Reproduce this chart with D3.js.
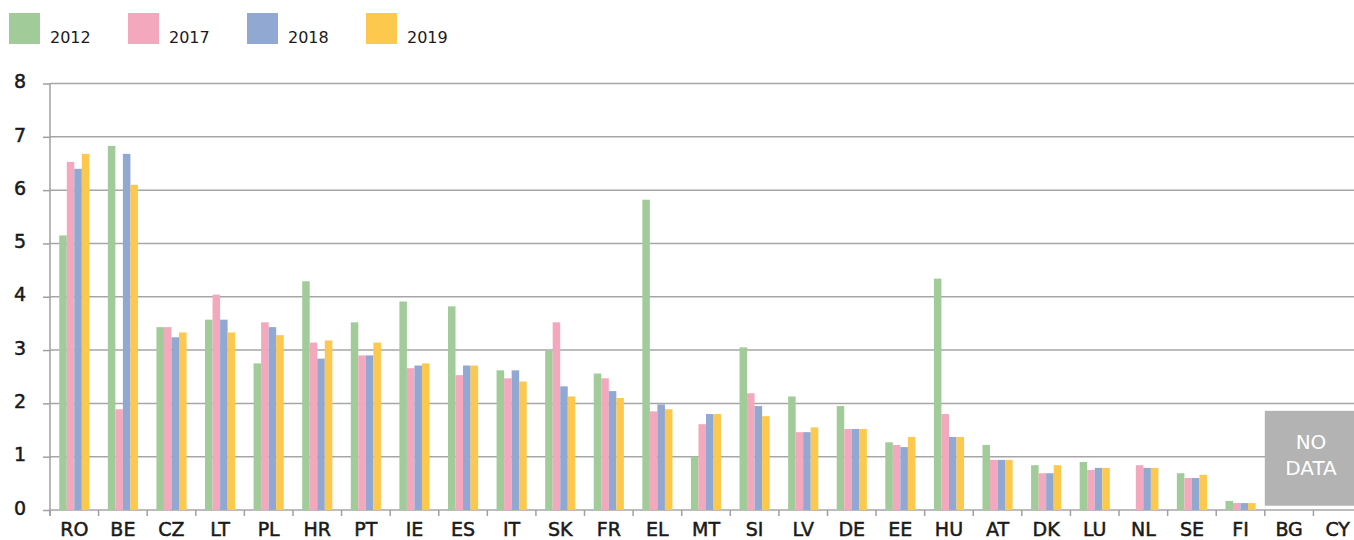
<!DOCTYPE html>
<html lang="en">
<head>
<meta charset="UTF-8">
<title>Chart</title>
<style>
  body { margin: 0; background: #fff; }
  svg text { font-family: "DejaVu Sans", "Open Sans", sans-serif; }
</style>
</head>
<body>
<svg id="chart" width="1354" height="540"></svg>
<script src="https://d3js.org/d3.v7.min.js"></script>
<script>

let countries = ["RO","BE","CZ","LT","PL","HR","PT","IE","ES","IT","SK","FR","EL","MT","SI","LV","DE","EE","HU","AT","DK","LU","NL","SE","FI","BG","CY"];
let years = ["2012", "2017", "2018", "2019"];
let colors = ["#a1cc99", "#f3a8bd", "#91a8d3", "#fdc84e"];

let v2012 = [5.15, 6.83, 3.43, 3.57, 2.75, 4.29, 3.52, 3.91, 3.82, 2.62, 2.99, 2.56, 5.82, 1.0, 3.05, 2.13, 1.95, 1.27, 4.34, 1.22, 0.84, 0.9, null, 0.69, 0.17, null, null];
let v2017 = [6.53, 1.89, 3.43, 4.04, 3.52, 3.14, 2.9, 2.66, 2.53, 2.47, 3.52, 2.47, 1.85, 1.61, 2.19, 1.46, 1.52, 1.22, 1.8, 0.94, 0.69, 0.75, 0.84, 0.6, 0.13, null, null];
let v2018 = [6.4, 6.68, 3.24, 3.57, 3.43, 2.84, 2.9, 2.71, 2.71, 2.62, 2.32, 2.23, 1.98, 1.8, 1.95, 1.46, 1.52, 1.18, 1.37, 0.94, 0.69, 0.79, 0.79, 0.6, 0.13, null, null];
let v2019 = [6.68, 6.1, 3.33, 3.33, 3.28, 3.18, 3.14, 2.75, 2.71, 2.41, 2.13, 2.1, 1.89, 1.8, 1.76, 1.55, 1.52, 1.37, 1.37, 0.94, 0.84, 0.79, 0.79, 0.66, 0.13, null, null];
let series = [v2012, v2017, v2018, v2019];
let yTicks = [0, 1, 2, 3, 4, 5, 6, 7, 8];
let noData = ["BG", "CY"];

let svg = d3.select("#chart");

let x0 = d3.scaleBand()
    .domain(countries)
    .range([50, 1362])
    .paddingInner(0.38)
    .paddingOuter(0.19);
let x1 = d3.scaleBand()
    .domain(years)
    .range([0, x0.bandwidth()]);
let y = d3.scaleLinear()
    .domain([0, 8])
    .range([510, 83.5]);

// grid lines
svg.append("g")
    .selectAll("line")
    .data(yTicks)
    .enter()
    .append("line")
    .attr("x1", 50)
    .attr("x2", 1354)
    .attr("y1", d => y(d))
    .attr("y2", d => y(d))
    .attr("stroke", "#a6a6a6")
    .attr("stroke-width", 1.5);

// bars
let rows = [];
countries.forEach((c, i) => {
    years.forEach((yr, j) => {
        if (series[j][i] != null) rows.push({c: c, yr: yr, v: series[j][i], color: colors[j]});
    });
});

svg.append("g")
    .selectAll("rect")
    .data(rows)
    .enter()
    .append("rect")
    .attr("x", d => x0(d.c) + x1(d.yr))
    .attr("width", x1.bandwidth())
    .attr("y", d => y(d.v))
    .attr("height", d => y(0) - y(d.v))
    .attr("fill", d => d.color);

// y axis
let yAxis = svg.append("g")
    .attr("transform", "translate(50,0)")
    .call(d3.axisLeft(y).tickValues(yTicks).tickSize(7).tickFormat(d3.format("d")));
yAxis.select(".domain").attr("stroke", "#a0a0a0").attr("stroke-width", 1.5)
    .attr("d", "M0," + (y(8)) + "V" + (y(0) + 6));
yAxis.selectAll(".tick line").attr("stroke", "#a0a0a0").attr("stroke-width", 1.5);
yAxis.selectAll(".tick text")
    .attr("x", -30)
    .attr("dy", "0.22em")
    .attr("text-anchor", "middle")
    .attr("fill", "#1a1a1a")
    .attr("stroke", "#1a1a1a")
    .attr("stroke-width", 0.5)
    .style("font-family", "'DejaVu Sans', sans-serif")
    .style("font-size", "19px");

// x axis
let step = x0.step();
svg.append("g")
    .selectAll("line")
    .data(d3.range(countries.length))
    .enter()
    .append("line")
    .attr("x1", i => 50 + i * step)
    .attr("x2", i => 50 + i * step)
    .attr("y1", y(0))
    .attr("y2", y(0) + 6)
    .attr("stroke", "#a0a0a0")
    .attr("stroke-width", 1.5);

svg.append("g")
    .selectAll("text")
    .data(countries)
    .enter()
    .append("text")
    .attr("x", d => x0(d) + x0.bandwidth() / 2)
    .attr("y", 536)
    .attr("text-anchor", "middle")
    .attr("fill", "#1a1a1a")
    .attr("stroke", "#1a1a1a")
    .attr("stroke-width", 0.5)
    .style("font-size", "19px")
    .text(d => d);

// no data box
let nd = svg.append("g");
nd.append("rect")
    .attr("x", x0(noData[0]) - 0.19 * step)
    .attr("y", y(1.86))
    .attr("width", 1354 - (x0(noData[0]) - 0.19 * step))
    .attr("height", y(0.08) - y(1.86))
    .attr("fill", "#b3b3b3");
nd.append("text")
    .attr("x", 1311)
    .attr("y", 449)
    .attr("text-anchor", "middle")
    .attr("fill", "#fff")
    .style("font-size", "20px")
    .text("NO");
nd.append("text")
    .attr("x", 1311)
    .attr("y", 475)
    .attr("text-anchor", "middle")
    .attr("fill", "#fff")
    .style("font-size", "20px")
    .text("DATA");

// legend
let legend = svg.append("g")
    .selectAll("g")
    .data(years)
    .enter()
    .append("g")
    .attr("transform", (d, i) => "translate(" + (9 + i * 119) + ",13)");
legend.append("rect")
    .attr("width", 31)
    .attr("height", 31)
    .attr("fill", (d, i) => colors[i]);
legend.append("text")
    .attr("x", 41)
    .attr("y", 30)
    .attr("fill", "#1a1a1a")
    .style("font-size", "16px")
    .text(d => d);

</script>
</body>
</html>
